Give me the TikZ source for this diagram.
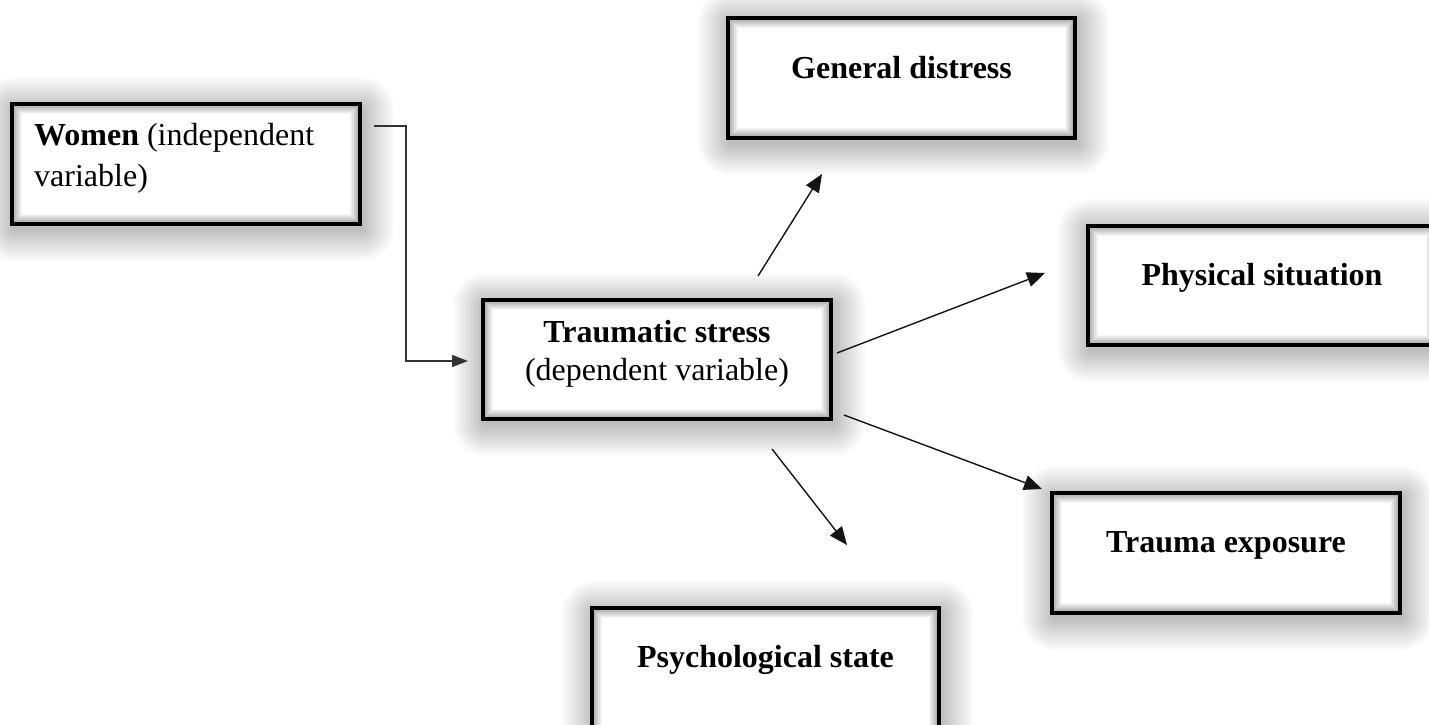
\documentclass[tikz,border=0pt]{standalone}
\usepackage{fontspec}
\setmainfont{Liberation Serif}
\usetikzlibrary{arrows.meta}
\tikzset{
  boxframe/.style={draw=black, line width=3.2pt, fill=white, inner sep=0pt, rectangle},
  lbl/.style={inner sep=0pt, font=\fontsize{32}{38}\selectfont},
  conn/.style={draw=black!92, line width=1.4pt, -{Triangle[length=18pt,width=15pt]}},
  elbow/.style={draw=black!80, line width=1.3pt, -{Triangle[length=16pt,width=12pt]}},
}
% #1 name, #2 x1, #3 y1, #4 x2, #5 y2
\newcommand\shbox[5]{%
  \foreach \r in {2,4,...,32}{%
    \fill[black,opacity=0.016,rounded corners=\r pt] (#2-\r+2,#3-\r+5) rectangle (#4+\r+2,#5+\r+5);}
  \node[boxframe, minimum width={(#4-#2)*1pt}, minimum height={(#5-#3)*1pt}]
    (#1) at ({(#2+#4)/2},{(#3+#5)/2}) {};
  \foreach \i [evaluate=\i as \op using 0.4*(1-\i/11)] in {1,...,10}{%
    \draw[black, opacity=\op, line width=1pt]
      ([shift={(\i+1.2,\i+1.2)}]#1.north west) rectangle ([shift={(-\i-1.2,-\i-1.2)}]#1.south east);}
}
\begin{document}
\begin{tikzpicture}[x=1pt,y=-1pt]
\useasboundingbox (0,0) rectangle (1429,724);
\clip (0,0) rectangle (1429,724);
\fill[white] (0,0) rectangle (1429,724);

\shbox{women}{12}{104}{360}{224}
\shbox{gd}{728}{18}{1075}{138}
\shbox{ps}{1088}{226}{1436}{345}
\shbox{ts}{483}{300}{831}{419}
\shbox{te}{1052}{493}{1400}{613}
\shbox{psy}{592}{608}{939}{740}

\node[lbl, anchor=base west] (w1) at (34,145) {\textbf{Women} (independent};
\node[lbl, anchor=base west] (w2) at (34,186) {variable)};
\node[lbl, anchor=base] (ts1) at (657,342) {\textbf{Traumatic stress}};
\node[lbl, anchor=base] (ts2) at (657,380) {(dependent variable)};
\node[lbl, anchor=base] (gdl) at (901.5,78) {\textbf{General distress}};
\node[lbl, anchor=base] (psl) at (1262,285) {\textbf{Physical situation}};
\node[lbl, anchor=base] (tel) at (1226,552) {\textbf{Trauma exposure}};
\node[lbl, anchor=base] (psyl) at (765.5,667) {\textbf{Psychological state}};

\coordinate (e0) at (374,126);
\coordinate (e1) at (468,361);
\coordinate (a0) at (758,276);
\coordinate (a1) at (822,174);
\coordinate (b0) at (837,353);
\coordinate (b1) at (1045,273);
\coordinate (c0) at (844,415);
\coordinate (c1) at (1042,489);
\coordinate (d0) at (772,449);
\coordinate (d1) at (847,545);

\draw[elbow] (e0) -| (406,361) -- (e1);
\draw[conn] (a0) -- (a1);
\draw[conn] (b0) -- (b1);
\draw[conn] (c0) -- (c1);
\draw[conn] (d0) -- (d1);
\end{tikzpicture}
\end{document}
